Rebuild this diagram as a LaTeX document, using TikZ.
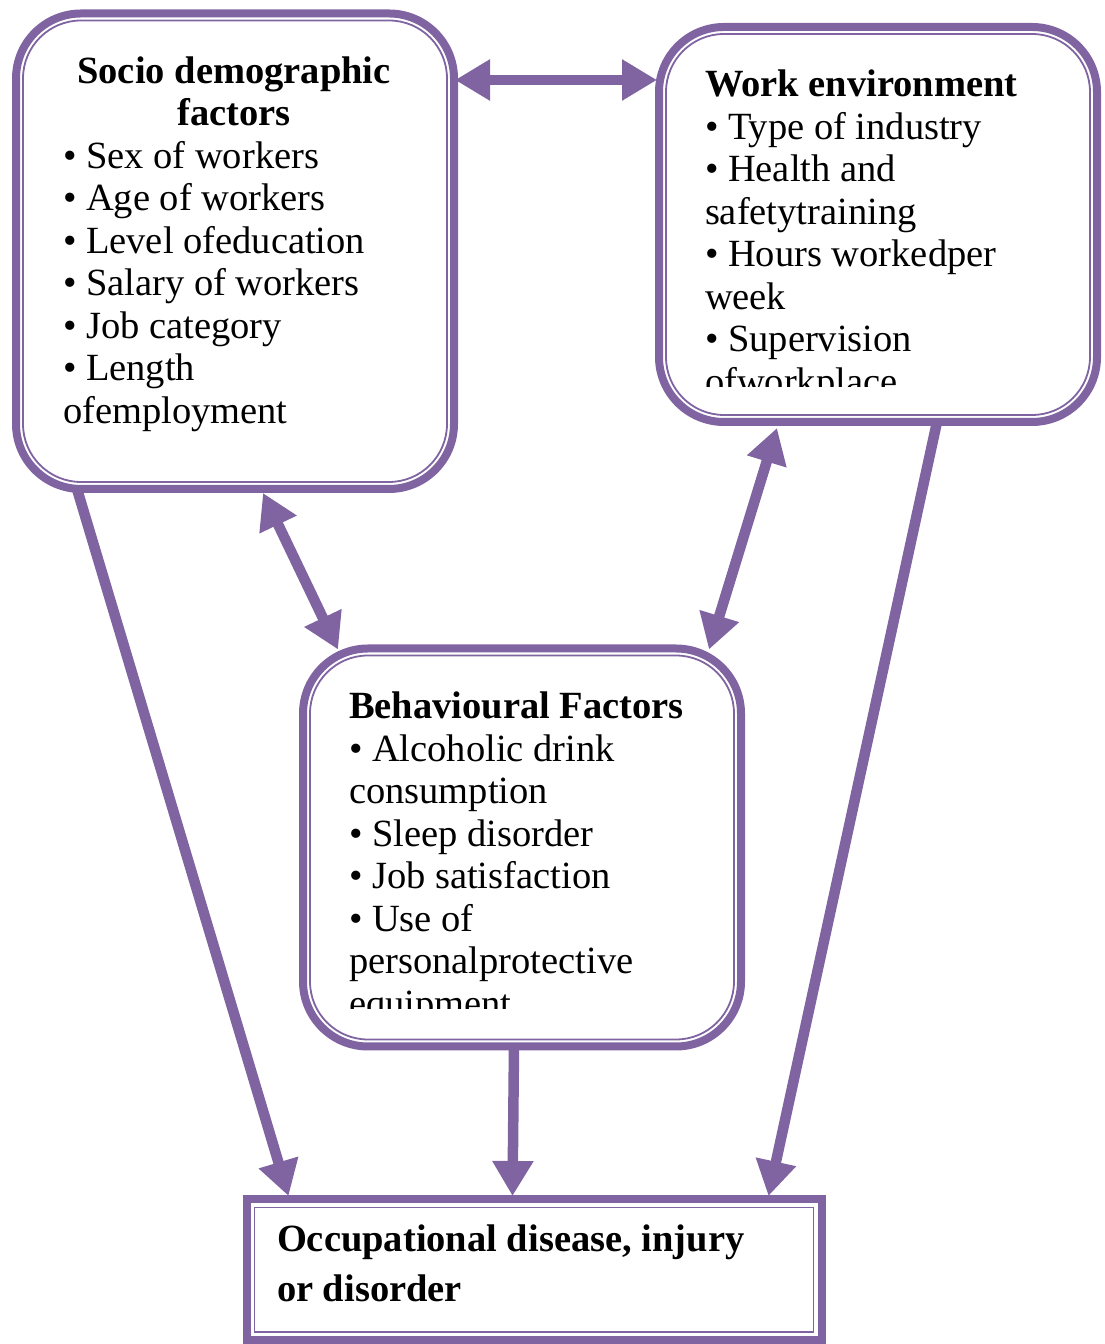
\documentclass[tikz,border=0pt]{standalone}
\usepackage{fontspec}
\setmainfont{Liberation Serif}
\usetikzlibrary{arrows.meta,calc}
\definecolor{pur}{HTML}{8064A2}
\newcommand\boxfont{\fontsize{38.5pt}{42.5pt}\selectfont}
\newcommand\outfont{\fontsize{38.5pt}{50pt}\selectfont}
\begin{document}
\begin{tikzpicture}[x=1pt,y=1pt,
  >={Triangle[length=35pt,width=39pt]},
  outerbox/.style={draw=pur, line width=8pt, fill=white, rounded corners=65pt, outer sep=0pt, inner sep=0pt},
  outerrect/.style={draw=pur, line width=8pt, fill=white, outer sep=0pt, inner sep=0pt},
  innerline/.style={draw=pur, line width=1.8pt},
  txt/.style={anchor=base west, inner sep=0pt, outer sep=0pt},
  link/.style={draw=pur, fill=pur, line width=10.5pt},
]
\useasboundingbox (0,0) rectangle (1104,1344);

% boxes
\node[outerbox, minimum width=438pt, minimum height=475.5pt] (socio) at (235,1092.75) {};
\draw[innerline, rounded corners=58pt] ($(socio.south west)+(7,7)$) rectangle ($(socio.north east)+(-7,-7)$);

\node[outerbox, minimum width=438pt, minimum height=395pt] (work) at (878,1119.5) {};
\draw[innerline, rounded corners=58pt] ($(work.south west)+(7,7)$) rectangle ($(work.north east)+(-7,-7)$);

\node[outerbox, minimum width=438pt, minimum height=398pt] (behav) at (522,496.5) {};
\draw[innerline, rounded corners=58pt] ($(behav.south west)+(7,7)$) rectangle ($(behav.north east)+(-7,-7)$);

\node[outerrect, minimum width=575pt, minimum height=140.5pt] (outcome) at (534,74.25) {};
\draw[innerline] ($(outcome.south west)+(8,8)$) rectangle ($(outcome.north east)+(-8,-8)$);

% texts
\node[txt] (sociotext) at (63,1260.7) {\parbox[t]{342pt}{\boxfont
{\centering\bfseries Socio demographic\\factors\par}
\raggedright
• Sex of workers\\
• Age of workers\\
• Level ofeducation\\
• Salary of workers\\
• Job category\\
• Length\\
ofemployment}};

\begin{scope}
\clip ($(work.south west)+(8,35.3)$) rectangle ($(work.north east)+(-8,-8)$);
\node[txt] (worktext) at (705,1247.3) {\parbox[t]{380pt}{\boxfont\raggedright
\textbf{Work environment}\\
• Type of industry\\
• Health and\\
safetytraining\\
• Hours workedper\\
week\\
• Supervision\\
ofworkplace}};
\end{scope}

\begin{scope}
\clip ($(behav.south west)+(8,37.5)$) rectangle ($(behav.north east)+(-8,-8)$);
\node[txt] (behavtext) at (349,625) {\parbox[t]{380pt}{\boxfont\raggedright
\textbf{Behavioural Factors}\\
• Alcoholic drink\\
consumption\\
• Sleep disorder\\
• Job satisfaction\\
• Use of\\
personalprotective\\
equipment}};
\end{scope}

\node[txt] (outtext) at (277,92.3) {\parbox[t]{530pt}{\outfont\raggedright\bfseries
Occupational disease, injury\\
or disorder}};

% connectors
\draw[link,<->] ($(socio.north east)+(1,-66.5)$) -- ($(work.north west)+(-2,-53)$);
\draw[link,<->] ($(socio.south west)+(247,-4)$) -- ($(behav.north west)+(35,-1)$);
\draw[link,<->] ($(work.south west)+(118,-6)$) -- ($(behav.north west)+(406,-1)$);
\draw[link,->] ($(socio.south west)+(61,0)$) -- ($(outcome.north west)+(42,3.5)$);
\draw[link,->] ($(behav.south west)+(211,0)$) -- ($(outcome.north west)+(266,3.5)$);
\draw[link,->] ($(work.south west)+(278,0)$) -- ($(outcome.north west)+(522,3.5)$);
\end{tikzpicture}
\end{document}
